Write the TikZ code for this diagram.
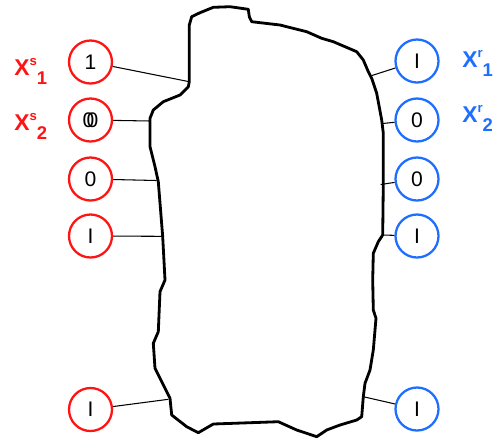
\documentclass[tikz,border=0pt]{standalone}
\usepackage{fontspec}
\setmainfont{Liberation Sans}
\usetikzlibrary{positioning}
\definecolor{rojo}{HTML}{FF1414}
\definecolor{azul}{HTML}{1E6EFF}
% variable with superscript and subscript side by side
\newcommand{\varx}[2]{\textbf{X}\raisebox{5.5pt}{\fontsize{7.5}{8}\selectfont\bfseries #1}\raisebox{-5.5pt}{\fontsize{10.5}{11}\selectfont\bfseries #2}}

\begin{document}
\begin{tikzpicture}[x=0.02cm, y=-0.02cm, font=\fontsize{12}{14}\selectfont,
			bit/.style={circle, draw, line width=1.3pt, minimum size=0.86cm, inner sep=0pt},
			bitS/.style={bit, draw=rojo},
			bitR/.style={bit, draw=azul},
			etiqS/.style={anchor=base west, inner sep=0pt, text=rojo, font=\fontsize{13}{15}\selectfont},
			etiqR/.style={anchor=base west, inner sep=0pt, text=azul, font=\fontsize{13}{15}\selectfont},
			enlace/.style={line width=0.6pt},
			borde/.style={line width=1.6pt, line join=round}]
	\useasboundingbox (0,0) rectangle (500,441);

	% the black box
	\draw[borde] (189.3,25) -- (191.7,16.7) -- (200,12.7) -- (213.3,7.3) -- (230,6.7)
		-- (248.3,9.3) -- (249.3,16.7) -- (251.7,21.7) -- (280,25) -- (306.7,31.7)
		-- (321.7,38.3) -- (333.3,41.7) -- (356.7,51.7) -- (363.3,60) -- (368.3,71.7)
		-- (371.7,78.3) -- (376.7,93.3) -- (381.7,120) -- (383.3,133.3) -- (383.3,183.3)
		-- (382.7,235) -- (378.3,241.7) -- (373.3,253.3) -- (372.7,280) -- (373.3,310)
		-- (376,318.3) -- (373.3,350) -- (370,370) -- (365,383.3) -- (363.3,396.7)
		-- (361.7,416.7) -- (356.7,420) -- (340,425) -- (326.7,430) -- (316.7,436.7)
		-- (306.7,433.3) -- (296.7,430) -- (278.3,421.7) -- (213.3,424) -- (198.3,432.7)
		-- (186.7,426.7) -- (171.7,415) -- (170,398.3) -- (165,388.3) -- (155,368.3)
		-- (153.3,343.3) -- (158.3,331.7) -- (160,291.7) -- (165,280) -- (162.7,236.7)
		-- (158.3,181.7) -- (155,166.7) -- (150,146.7) -- (150,118.3) -- (153.3,110)
		-- (163.3,101.7) -- (180,95) -- (188.3,86.7) -- (189.3,81.7) -- cycle;

	% points where the wires meet the box
	\coordinate (as1) at (189.3,81.7);
	\coordinate (as2) at (150.5,121);
	\coordinate (as3) at (156.7,180.5);
	\coordinate (as4) at (162.7,236.3);
	\coordinate (as5) at (168.3,399.3);
	\coordinate (ar1) at (372,75.5);
	\coordinate (ar2) at (382.5,123.5);
	\coordinate (ar3) at (380.7,184.5);
	\coordinate (ar4) at (382.7,235);
	\coordinate (ar5) at (363.3,396.7);

	% sender bits
	\node[bitS] (s1) at (90.5,62) {1};
	\node[bitS] (s2) at (90.5,120) {\rlap{0}\kern2.2pt0};
	\node[bitS] (s3) at (90.5,179) {0};
	\node[bitS] (s4) at (90.5,236) {I};
	\node[bitS] (s5) at (90.5,409.5) {I};

	% receiver bits
	\node[bitR] (r1) at (417,61) {I};
	\node[bitR] (r2) at (417,120) {0};
	\node[bitR] (r3) at (417,179) {0};
	\node[bitR] (r4) at (417,236) {I};
	\node[bitR] (r5) at (417,409) {I};

	\foreach \i in {1,...,5} {
		\draw[enlace] (s\i) -- (as\i);
		\draw[enlace] (r\i) -- (ar\i);
	}

	\node[etiqS] (xs1) at (14,75) {\varx{s}{1}};
	\node[etiqS] (xs2) at (14,130) {\varx{s}{2}};
	\node[etiqR] (xr1) at (462,67) {\varx{r}{1}};
	\node[etiqR] (xr2) at (462,122) {\varx{r}{2}};
\end{tikzpicture}
\end{document}
